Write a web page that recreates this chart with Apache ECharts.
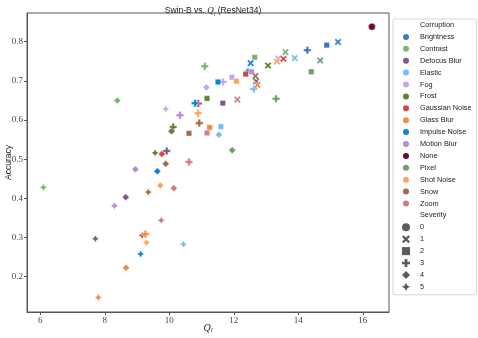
<!DOCTYPE html>
<html>
<head>
<meta charset="utf-8">
<script src="https://cdn.jsdelivr.net/npm/echarts@6/dist/echarts.min.js"></script>
<style>html,body{margin:0;padding:0;background:#fff}#c{width:478px;height:338px}</style>
</head>
<body>
<div id="c"></div>
<script>
// ---- data: [Q_l, accuracy, severity] ----
const corruptions = ['Brightness','Contrast','Defocus Blur','Elastic','Fog','Frost','Gaussian Noise','Glass Blur','Impulse Noise','Motion Blur','None','Pixel','Shot Noise','Snow','Zoom'];
const severities = ['0','1','2','3','4','5'];
const xTicks = [6, 8, 10, 12, 14, 16];
const yTicks = [0.2, 0.3, 0.4, 0.5, 0.6, 0.7, 0.8];

const brightness   = [[15.23,0.799,1],[14.88,0.791,2],[14.28,0.778,3],[12.44,0.725,5]];
const contrast     = [[13.60,0.773,1],[12.65,0.760,2],[11.10,0.737,3],[8.39,0.650,4],[6.10,0.428,5]];
const defocusBlur  = [[12.69,0.699,1],[11.66,0.643,2],[9.92,0.521,3],[8.65,0.403,4],[7.71,0.297,5]];
const elastic      = [[13.89,0.758,1],[11.60,0.583,2],[12.62,0.679,3],[11.54,0.562,4],[10.44,0.283,5]];
const fog          = [[13.38,0.757,1],[11.94,0.709,2],[11.67,0.697,3],[11.15,0.683,4],[9.89,0.628,5]];
const frost        = [[13.06,0.739,1],[11.17,0.655,2],[10.12,0.582,3],[10.07,0.571,4],[9.56,0.516,5]];
const gaussian     = [[13.54,0.756,1],[12.37,0.717,2],[10.90,0.642,3],[9.77,0.513,4],[9.16,0.306,5]];
const glassBlur    = [[12.73,0.689,1],[11.25,0.581,2],[9.26,0.309,3],[8.66,0.223,4],[7.80,0.147,5]];
const impulse      = [[12.52,0.745,1],[11.51,0.697,2],[10.80,0.643,3],[9.63,0.469,4],[9.11,0.258,5]];
const motionBlur   = [[12.55,0.723,2],[10.33,0.612,3],[8.95,0.474,4],[8.30,0.381,5]];
const none         = [[16.28,0.838,0]];
const pixel        = [[14.68,0.752,1],[14.40,0.723,2],[13.31,0.654,3],[11.95,0.523,4]];
const shotNoise    = [[13.34,0.749,1],[12.08,0.699,2],[10.89,0.617,3],[9.72,0.433,4],[9.29,0.287,5]];
const snow         = [[12.67,0.712,1],[10.61,0.566,2],[10.93,0.592,3],[9.89,0.488,4],[9.35,0.416,5]];
const zoom         = [[12.11,0.652,1],[11.17,0.567,2],[10.61,0.493,3],[10.14,0.426,4],[9.75,0.344,5]];

const seriesData = [brightness, contrast, defocusBlur, elastic, fog, frost, gaussian, glassBlur, impulse, motionBlur, none, pixel, shotNoise, snow, zoom];
const colors = ['#3b78c2','#77b86d','#7a5a8a','#7cbaf4','#c8a4f0','#627f34','#d5434b','#f08a44','#0a84d6','#b48ade','#6a0a2a','#6f9f6e','#fca35c','#9e6e48','#d07c80'];

// ---- marker shapes ----
const SYM = [
  'circle',
  'path://M2,0L5,3L8,0L10,2L7,5L10,8L8,10L5,7L2,10L0,8L3,5L0,2Z',
  'path://M0,0H10V10H0Z',
  'path://M3.3,0H6.7V3.3H10V6.7H6.7V10H3.3V6.7H0V3.3H3.3Z',
  'path://M5,0L10,5L5,10L0,5Z',
  'path://M5,0L6.77,3.23L10,5L6.77,6.77L5,10L3.23,6.77L0,5L3.23,3.23Z'
];
const SIZE = [7, 7, 5.5, 7.5, 7, 7.5];

const series = [];
corruptions.forEach((name, i) => {
  series.push({
    type: 'scatter', name: name,
    data: seriesData[i],
    symbol: v => SYM[v[2]],
    symbolSize: v => SIZE[v[2]],
    itemStyle: { color: colors[i], borderColor: '#fff', borderWidth: 0.4, opacity: 1 },
    emphasis: { disabled: true }
  });
});
['Corruption', 'Severity'].concat(severities).forEach(n => {
  series.push({ type: 'scatter', name: n, data: [], itemStyle: { color: '#333' } });
});

const legendData = [{ name: 'Corruption', icon: 'none' }]
  .concat(corruptions.map(n => ({ name: n, icon: 'circle' })))
  .concat([{ name: 'Severity', icon: 'none' }])
  .concat(severities.map((n, k) => ({ name: n, icon: SYM[k] })));

const sans = 'Liberation Sans';
const serif = 'Liberation Serif';

const chart = echarts.init(document.getElementById('c'), null, { renderer: 'canvas' });
chart.setOption({
  animation: false,
  backgroundColor: '#fff',
  title: {
    text: '{a|Swin-B vs. }{q|Q}{s|l}{a| (ResNet34)}',
    left: 208, top: 0, textAlign: 'center',
    textStyle: {
      fontWeight: 'normal',
      rich: {
        a: { fontFamily: sans, fontSize: 8.5, fontWeight: 'normal', color: '#222', lineHeight: 12 },
        q: { fontFamily: serif, fontStyle: 'italic', fontWeight: 'normal', fontSize: 9, color: '#222', lineHeight: 12 },
        s: { fontFamily: serif, fontStyle: 'italic', fontWeight: 'normal', fontSize: 6, color: '#222', lineHeight: 7, verticalAlign: 'bottom' }
      }
    }
  },
  grid: { left: 27, right: 89, top: 13, bottom: 26, show: true, borderColor: '#555', borderWidth: 1, containLabel: false, outerBoundsMode: 'none' },
  xAxis: {
    type: 'value', min: 5.59, max: 16.81,
    name: '{q|Q}{s|l}', nameLocation: 'middle', nameGap: 10, nameMoveOverlap: false,
    nameTextStyle: {
      rich: {
        q: { fontFamily: serif, fontStyle: 'italic', fontSize: 10, color: '#222', lineHeight: 12 },
        s: { fontFamily: serif, fontStyle: 'italic', fontSize: 7, color: '#222', lineHeight: 7, verticalAlign: 'bottom' }
      }
    },
    axisLine: { show: true, lineStyle: { color: '#555', width: 1 } },
    axisTick: { show: true, length: 3, lineStyle: { color: '#555' }, customValues: xTicks },
    axisLabel: { fontFamily: serif, fontSize: 9, color: '#444', margin: 4, customValues: xTicks, formatter: v => String(v) },
    splitLine: { show: false }
  },
  yAxis: {
    type: 'value', min: 0.110, max: 0.873,
    name: 'Accuracy', nameLocation: 'middle', nameGap: 14, nameMoveOverlap: false,
    nameTextStyle: { fontFamily: sans, fontSize: 8.5, color: '#222' },
    axisLine: { show: true, lineStyle: { color: '#555', width: 1 } },
    axisTick: { show: true, length: 3, lineStyle: { color: '#555' }, customValues: yTicks },
    axisLabel: { fontFamily: serif, fontSize: 9, color: '#444', margin: 4, customValues: yTicks, formatter: v => v.toFixed(1) },
    splitLine: { show: false }
  },
  legend: {
    orient: 'vertical', left: 393, top: 19,
    padding: [1, 5, 3, 4],
    itemWidth: 18, itemHeight: 8, itemGap: 1.9,
    borderColor: '#d6d6d6', borderWidth: 1, borderRadius: 2,
    backgroundColor: '#fff',
    selectedMode: false,
    symbolKeepAspect: true,
    textStyle: { fontFamily: sans, fontSize: 7.3, color: '#222', lineHeight: 10 },
    data: legendData
  },
  series: series
});
</script>
</body>
</html>
